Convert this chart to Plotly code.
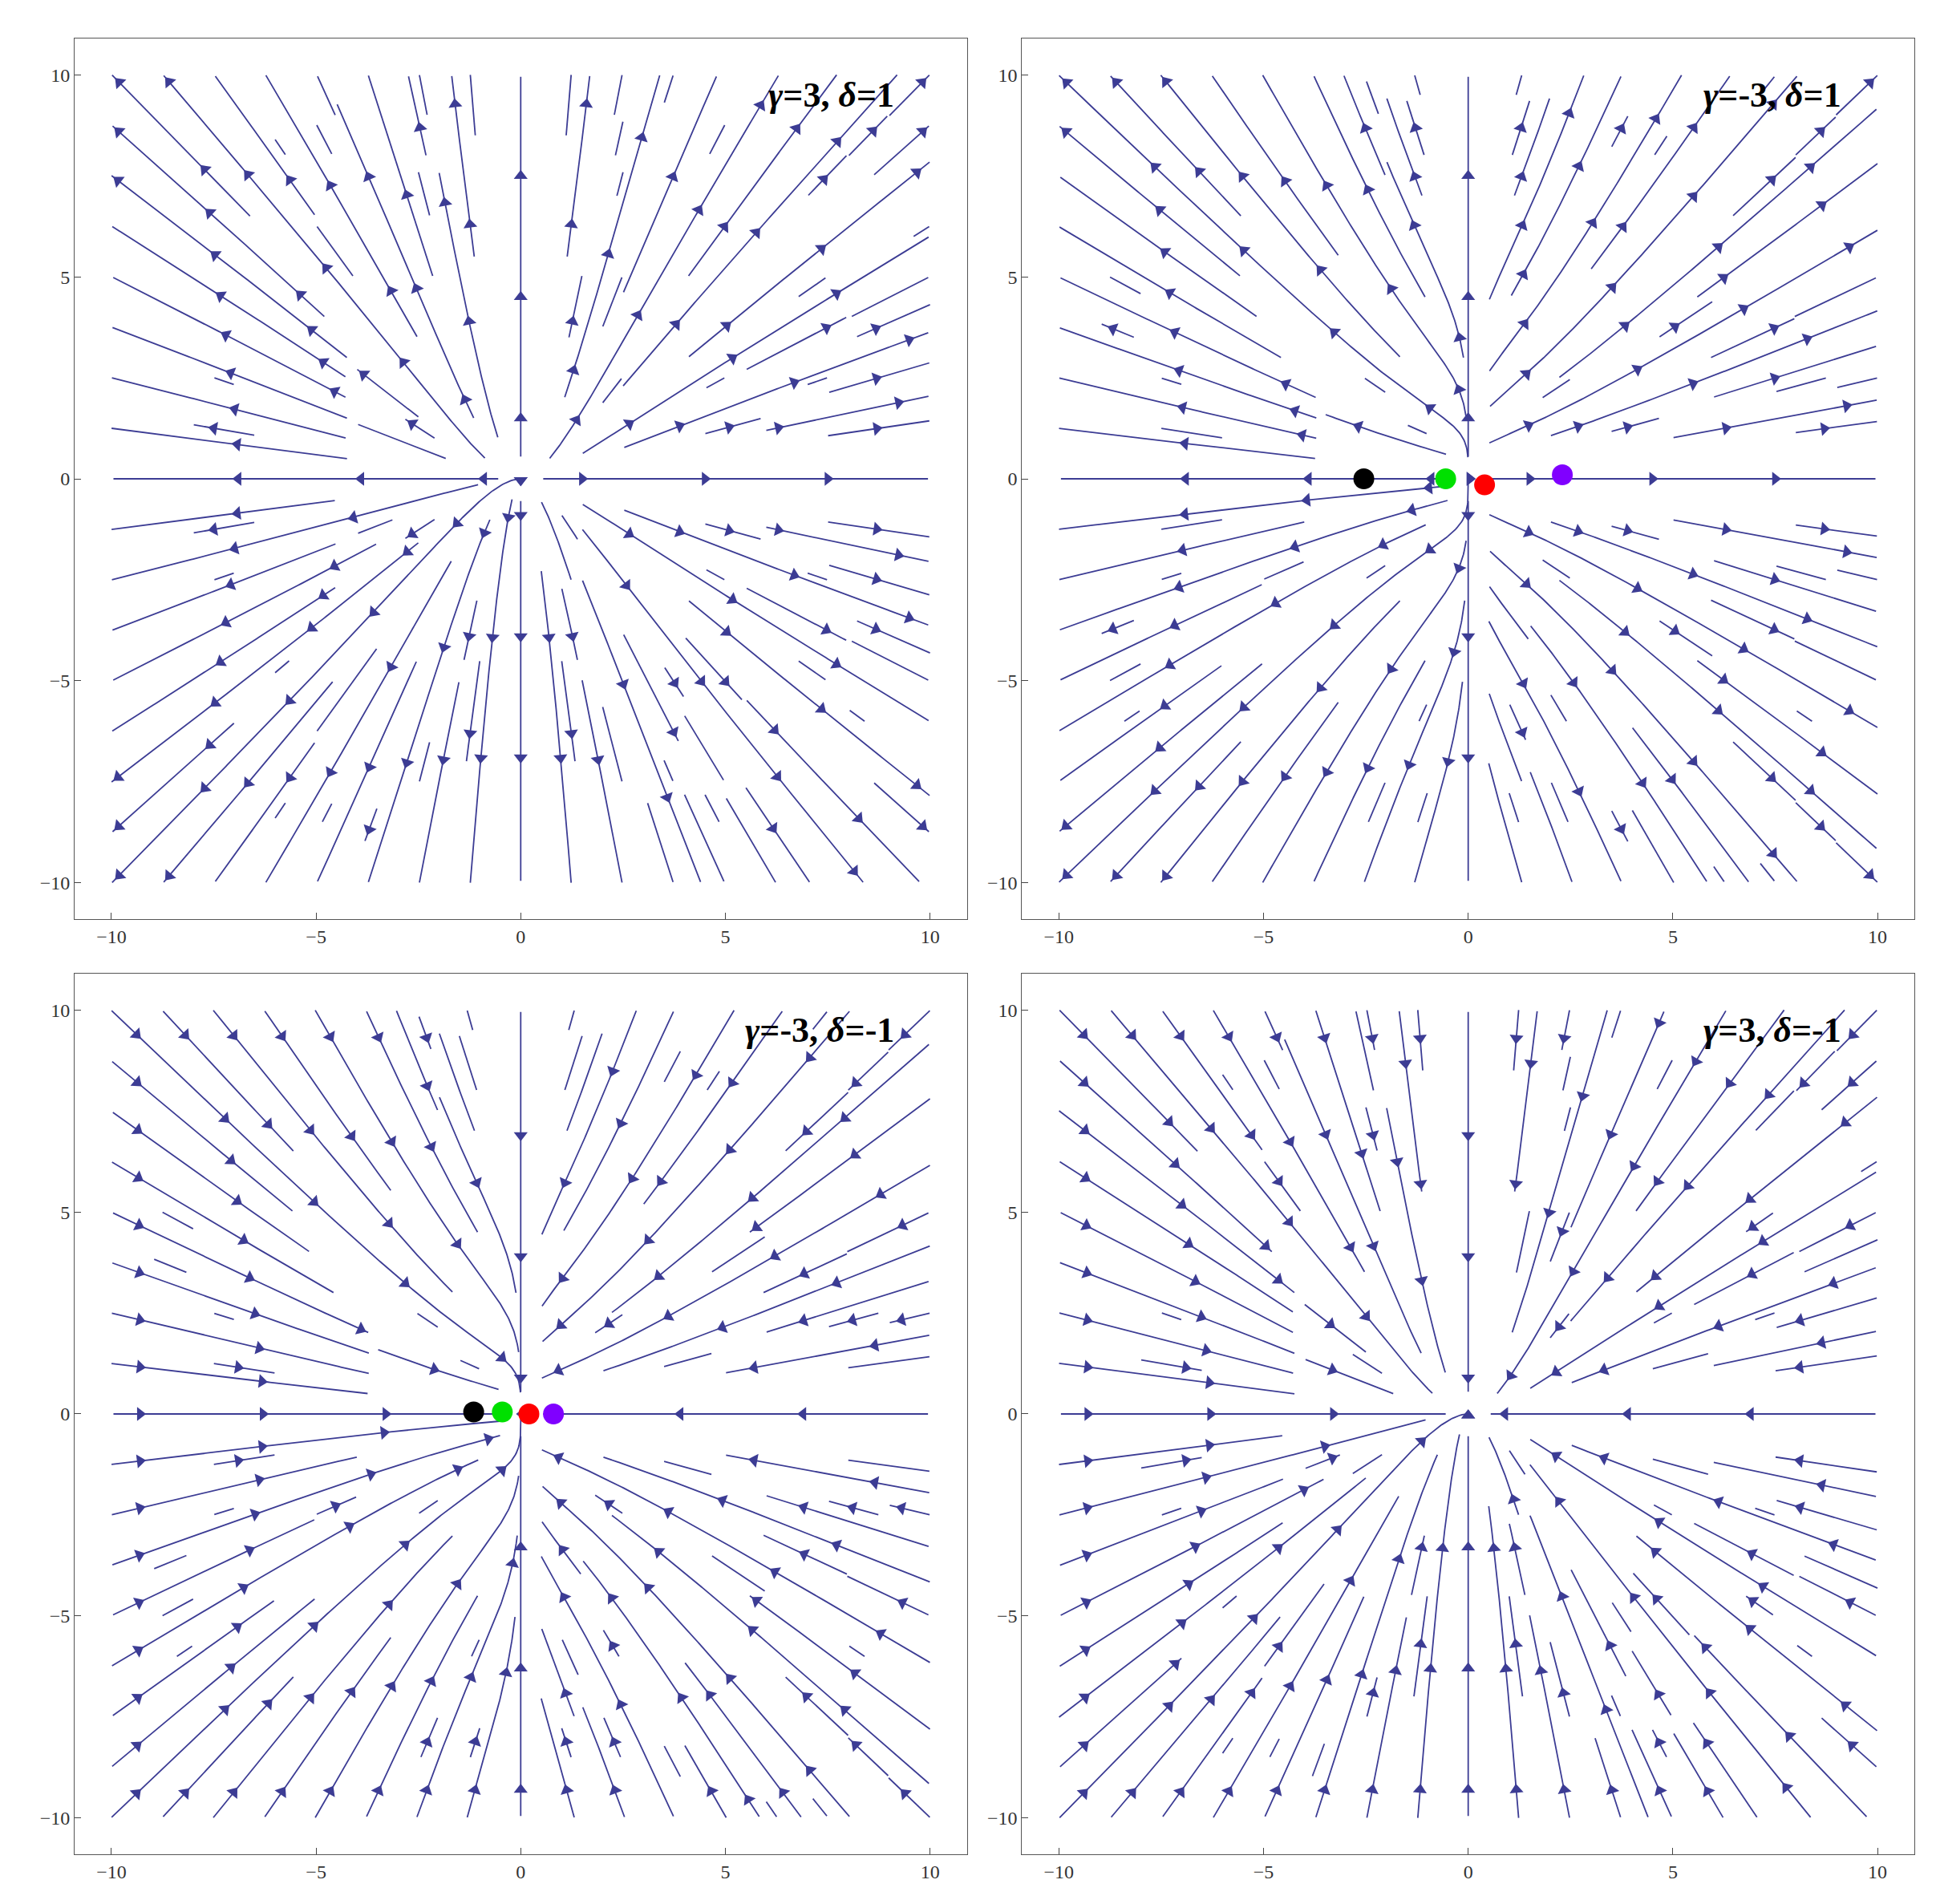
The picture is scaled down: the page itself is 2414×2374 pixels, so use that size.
import numpy as np
import plotly.graph_objects as go
from plotly.subplots import make_subplots

# panel parameters
gammas = [3, -3, -3, 3]
deltas = [1, 1, -1, -1]
titles = ["<b><i>γ</i>=3, <i>δ</i>=1</b>", "<b><i>γ</i>=-3, <i>δ</i>=1</b>",
          "<b><i>γ</i>=-3, <i>δ</i>=-1</b>", "<b><i>γ</i>=3, <i>δ</i>=-1</b>"]
# fixed points (x, y) per panel
fp_x = [[], [-2.55, -0.55, 0.4, 2.3], [-1.15, -0.45, 0.2, 0.8], []]
fp_y = [[], [0.0, 0.0, -0.15, 0.1], [0.05, 0.05, 0.0, 0.0], []]
fp_colors = ["black", "#00e000", "red", "#8000ff"]
ticks = [-10, -5, 0, 5, 10]

LINE = "#3c3c94"
SERIF = "Liberation Serif"


def field(x, y, g, d):
    u = d * x
    v = d * y * (1 + g / (x * x + 4))
    return u, v


def streamlines(g, d):
    cell = 0.5
    n = int(22 / cell) + 1
    occ = np.zeros((n, n), bool)
    lines, heads = [], []
    seeds = np.linspace(-9.6, 9.6, 17)

    def idx(x, y):
        return int((x + 11) / cell), int((y + 11) / cell)

    for sx in seeds:
        for sy in seeds:
            i, j = idx(sx, sy)
            if occ[i, j]:
                continue
            parts = []
            for sgn in (1, -1):
                pts = [(sx, sy)]
                x, y = sx, sy
                mine = {(i, j)}
                for _ in range(400):
                    u, v = field(x, y, g, d)
                    s = np.hypot(u, v)
                    if s < 1e-6:
                        break
                    x += sgn * 0.05 * u / s
                    y += sgn * 0.05 * v / s
                    if abs(x) > 10 or abs(y) > 10:
                        break
                    c = idx(x, y)
                    if occ[c] and c not in mine:
                        break
                    mine.add(c)
                    pts.append((x, y))
                parts.append((pts, mine))
            pts = parts[1][0][::-1] + parts[0][0][1:]
            if len(pts) < 10:
                continue
            for c in parts[0][1] | parts[1][1]:
                occ[c] = True
            lines.append(pts)
            # arrowheads spaced along the line
            start = len(parts[1][0]) - 1
            for m in range(start % 60 + 6, len(pts) - 4, 60):
                x0, y0 = pts[m]
                u, v = field(x0, y0, g, d)
                heads.append((x0, y0, np.degrees(np.arctan2(u, v))))
    return lines, heads


fig = make_subplots(rows=2, cols=2, horizontal_spacing=0.03, vertical_spacing=0.03)
for k in range(4):
    r, c = k // 2 + 1, k % 2 + 1
    lines, heads = streamlines(gammas[k], deltas[k])
    xs, ys = [], []
    for pts in lines:
        xs += [p[0] for p in pts] + [None]
        ys += [p[1] for p in pts] + [None]
    fig.add_trace(go.Scatter(x=xs, y=ys, mode="lines", line=dict(color=LINE, width=1.8),
                             showlegend=False, hoverinfo="skip"), row=r, col=c)
    fig.add_trace(go.Scatter(x=[h[0] for h in heads], y=[h[1] for h in heads], mode="markers",
                             marker=dict(symbol="triangle-up", size=15, angle=[h[2] for h in heads],
                                         color=LINE, line=dict(width=0)),
                             showlegend=False), row=r, col=c)
    if fp_x[k]:
        fig.add_trace(go.Scatter(x=fp_x[k], y=fp_y[k], mode="markers",
                                 marker=dict(size=26, color=fp_colors, line=dict(width=0)),
                                 showlegend=False), row=r, col=c)
    ax = "" if k == 0 else str(k + 1)
    fig.add_annotation(x=0.92, y=0.96, xref=f"x{ax} domain", yref=f"y{ax} domain",
                       text=titles[k], showarrow=False, xanchor="right", yanchor="top",
                       font=dict(size=44, color="black", family=SERIF))

axis_style = dict(range=[-10.9, 10.9], tickvals=ticks, showgrid=False, zeroline=False,
                  showline=True, mirror=True, linecolor="#555", ticks="inside", ticklen=8,
                  tickfont=dict(size=24, family=SERIF, color="#333"))
fig.update_xaxes(**axis_style)
fig.update_yaxes(**axis_style)
fig.update_layout(width=2414, height=2374, plot_bgcolor="white", paper_bgcolor="white",
                  margin=dict(l=85, r=35, t=40, b=70))
fig.write_html("out.html")
